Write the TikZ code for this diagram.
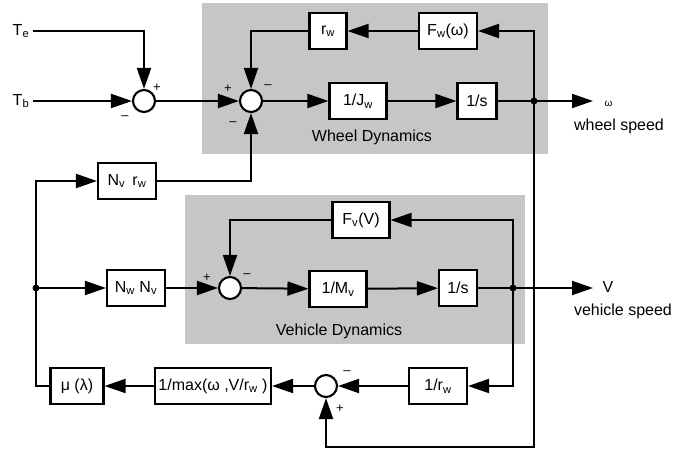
\documentclass[tikz,border=0pt]{standalone}
\usepackage{fontspec}
\setmainfont{Liberation Sans}
\usetikzlibrary{arrows.meta,positioning,calc}
\definecolor{bshade}{HTML}{C6C6C6}

\begin{document}
\begin{tikzpicture}[x=1pt,y=-1pt,
  every node/.style={font=\fontsize{16}{18}\selectfont},
  blk/.style={draw,line width=2.1pt,fill=white,minimum height=36pt,inner sep=2pt},
  sumpt/.style={draw,circle,line width=2.1pt,fill=white,minimum size=22pt,inner sep=0pt},
  sgn/.style={font=\fontsize{13}{15}\selectfont,inner sep=0pt},
  sig/.style={line width=2pt,-{Triangle[length=21pt,width=14pt]}},
  wire/.style={line width=2pt},
  dot/.style={circle,fill,inner sep=0pt,minimum size=7pt}]
  \useasboundingbox (0,0) rectangle (689,452);

  % shaded subsystems
  \fill[bshade] (202,3) rectangle (548,154);
  \fill[bshade] (185,195) rectangle (525,344);
  \node (wdyn) at (372,137) {Wheel Dynamics};
  \node (vdyn) at (339,331) {Vehicle Dynamics};

  % wheel loop
  \node (Te) at (21,31) {T\textsubscript{e}};
  \node (Tb) at (21,101) {T\textsubscript{b}};
  \node[sumpt] (s1) at (144,101) {};
  \node[sumpt] (s2) at (251,101) {};
  \node[blk,minimum width=37pt] (rw) at (328,31) {r\textsubscript{w}};
  \node[blk,minimum width=58pt] (Fw) at (448,31) {F\textsubscript{w}(ω)};
  \node[blk,minimum width=57pt] (Jw) at (358,101) {1/J\textsubscript{w}};
  \node[blk,minimum width=39pt] (iw) at (477,101) {1/s};
  \node[dot] (bw) at (534,101) {};
  \coordinate (wout) at (593,101);
  \coordinate (cb) at (534,447);
  \node[font=\fontsize{10}{12}\selectfont,anchor=west] (om) at (601,104) {ω};
  \node (wsp) at (619,126) {wheel speed};

  \node[sgn] (p1) at (157,88) {+};
  \node[sgn] (m1) at (125,118) {--};
  \node[sgn] (p2) at (228,89) {+};
  \node[sgn] (m2) at (268,87) {--};
  \node[sgn] (m3) at (233,124) {--};

  \draw[sig] (Te.east) -| (s1.north);
  \draw[sig] (Tb.east) -- (s1.west);
  \draw[sig] (s1) -- (s2.west);
  \draw[sig] (s2) -- (Jw);
  \draw[sig] (Jw) -- (iw);
  \draw[wire] (iw) -- (bw.center);
  \draw[sig] (bw.center) -- (wout);
  \draw[sig] (bw.center) |- (Fw.east);
  \draw[sig] (Fw) -- (rw);
  \draw[sig] (rw.west) -| (s2.north);

  % coupling
  \node[blk,minimum width=58pt] (Nr) at (127,181) {N\textsubscript{v}\, r\textsubscript{w}};
  \node[dot] (bl) at (36,288) {};
  \draw[sig] (Nr.east) -| (s2.south);
  \draw[sig] (bl.center) |- (Nr.west);

  % vehicle loop
  \node[blk,minimum width=58pt] (NN) at (136,288) {N\textsubscript{w} N\textsubscript{v}};
  \node[sumpt] (s3) at (230,288) {};
  \node[blk,minimum width=57pt] (Fv) at (361,220) {F\textsubscript{v}(V)};
  \node[blk,minimum width=57pt] (Mv) at (338,289) {1/M\textsubscript{v}};
  \node[blk,minimum width=38pt] (iv) at (458,288) {1/s};
  \node[dot] (bv) at (513,288) {};
  \coordinate (vout) at (593,288);
  \node[anchor=west] (Vl) at (599,287) {V};
  \node (vsp) at (623,311) {vehicle speed};

  \node[sgn] (p3) at (207,278) {+};
  \node[sgn] (m4) at (247,276) {--};

  \draw[sig] (bl.center) -- (NN.west);
  \draw[sig] (NN) -- (s3);
  \draw[sig] (s3) -- (Mv);
  \draw[sig] (Mv) -- (iv);
  \draw[wire] (iv) -- (bv.center);
  \draw[sig] (bv.center) -- (vout);
  \draw[sig] (bv.center) |- (Fv.east);
  \draw[sig] (Fv.west) -| (s3.north);

  % slip path
  \node[blk,minimum width=58pt] (ir) at (438,386) {1/r\textsubscript{w}};
  \node[sumpt] (s4) at (326,386) {};
  \node[blk,minimum width=116pt] (mx) at (213,386) {1/max(ω ,V/r\textsubscript{w} )};
  \node[blk,minimum width=53pt] (mu) at (77,386) {μ (λ)};
  \node[sgn] (m5) at (347,373) {--};
  \node[sgn] (p4) at (340,409) {+};

  \draw[sig] (bv.center) |- (ir.east);
  \draw[sig] (ir) -- (s4);
  \draw[sig] (s4) -- (mx);
  \draw[sig] (mx) -- (mu);
  \draw[wire] (mu.west) -| (bl.center);
  \draw[sig] (bw.center) -- (cb) -| (s4.south);
\end{tikzpicture}
\end{document}
